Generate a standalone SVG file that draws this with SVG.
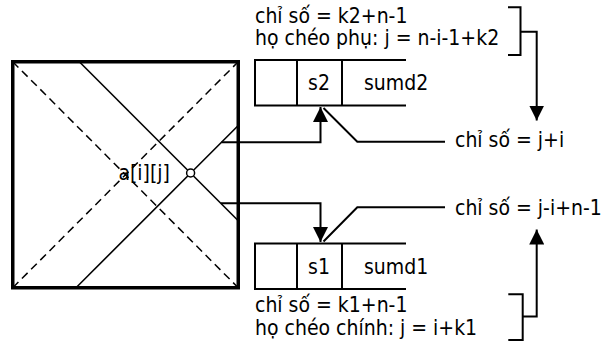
<svg xmlns="http://www.w3.org/2000/svg" width="610" height="346" viewBox="0 0 610 346">
<defs>
<style>
text{font-family:"DejaVu Sans Condensed","DejaVu Sans",sans-serif;font-stretch:condensed;font-size:21px;fill:#000}
.ln{stroke:#000;stroke-width:2;fill:none}
.thin{stroke:#000;stroke-width:1.6;fill:none}
.dash{stroke:#000;stroke-width:1.5;fill:none;stroke-dasharray:8 5}
</style>
<marker id="ah" viewBox="0 0 10 10" refX="10" refY="5" markerWidth="7.5" markerHeight="7.5" markerUnits="strokeWidth" orient="auto">
<path d="M0,0 L10,5 L0,10 z" fill="#000"/>
</marker>
</defs>
<rect x="0" y="0" width="610" height="346" fill="#fff"/>
<g id="matrix">
<rect x="12.75" y="61.75" width="225.5" height="226" fill="#fff" stroke="#000" stroke-width="3.5"/>
<line class="dash" x1="12.75" y1="61.75" x2="238.25" y2="287.75"/>
<line class="dash" x1="12.75" y1="287.75" x2="238.25" y2="61.75"/>
<line class="thin" x1="79.3" y1="61.75" x2="238.25" y2="220.7"/>
<line class="thin" x1="76" y1="287.75" x2="238.25" y2="125.5"/>
<circle cx="190.6" cy="173" r="4" fill="#fff" stroke="#000" stroke-width="1.5"/>
<text x="170" y="180" text-anchor="end">a[i][j]</text>
</g>
<g id="sumd2">
<path class="ln" d="M406,60 H255 V105.5 H406 M297,60 V105.5 M342,60 V105.5"/>
<text x="319" y="90" text-anchor="middle">s2</text>
<text x="364" y="90">sumd2</text>
</g>
<g id="sumd1">
<path class="ln" d="M406,243.5 H255 V289 H406 M297,243.5 V289 M342,243.5 V289"/>
<text x="319" y="274" text-anchor="middle">s1</text>
<text x="364" y="274">sumd1</text>
</g>
<g id="label-top">
<text x="255" y="22.5">chỉ số = k2+n-1</text>
<text x="255" y="44.5">họ chéo phụ: j = n-i-1+k2</text>
</g>
<g id="label-bottom">
<text x="255" y="312">chỉ số = k1+n-1</text>
<text x="255" y="335">họ chéo chính: j = i+k1</text>
</g>
<g id="label-ji">
<text x="455" y="146.5">chỉ số = j+i</text>
</g>
<g id="label-jin">
<text x="455" y="214.5">chỉ số = j-i+n-1</text>
</g>
<g id="connectors">
<path class="ln" d="M221.5,142.3 H320.5 V107" marker-end="url(#ah)"/>
<path class="ln" d="M220.9,203.3 H320.5 V242" marker-end="url(#ah)"/>
<path class="ln" d="M445,141.7 H357.3 L323.5,108"/>
<path class="ln" d="M445,207.3 H357.3 L323.5,241.5"/>
<path class="ln" d="M508,7.3 H520.5 V55 H508 M520.5,31.7 H536.7 V120.5" marker-end="url(#ah)"/>
<path class="ln" d="M508.3,294.3 H522.7 V340 H508.3 M522.7,316.5 H536.7 V229.5" marker-end="url(#ah)"/>
</g>
</svg>
